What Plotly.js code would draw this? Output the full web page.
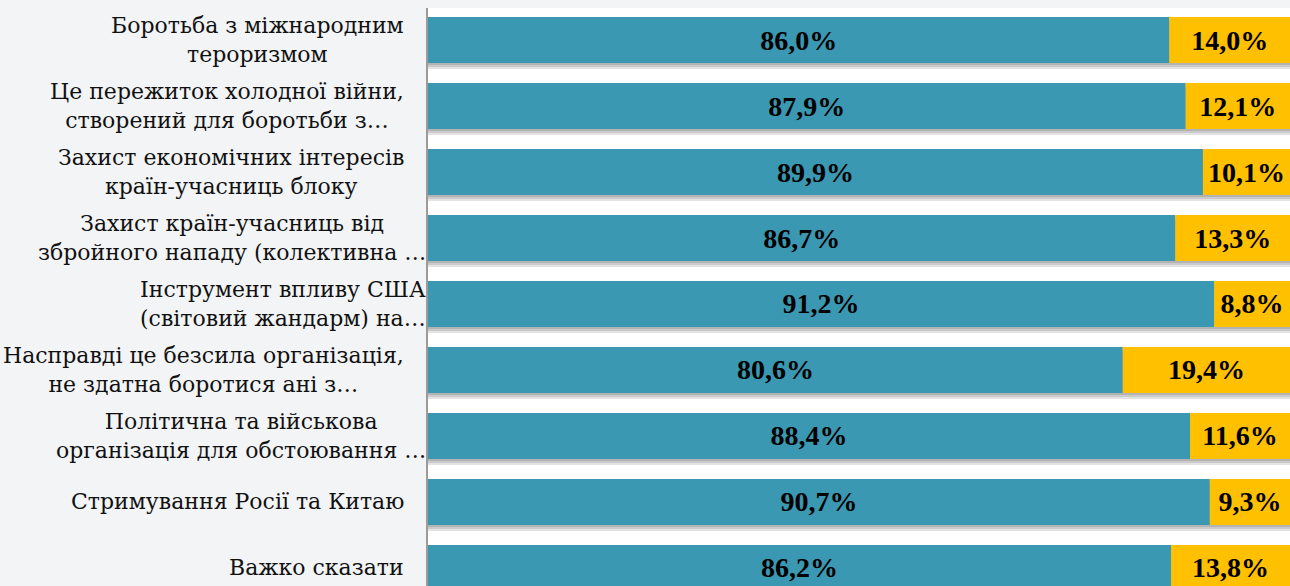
<!DOCTYPE html>
<html>
<head>
<meta charset="utf-8">
<script src="https://cdn.plot.ly/plotly-3.0.1.min.js"></script>
<style>
  html, body { margin: 0; padding: 0; background: #f3f4f6; }
  #chart { width: 1290px; height: 586px; }
</style>
</head>
<body>
<div id="chart"></div>
<script>
// ---- data ----
const categories = [
  "Боротьба з міжнародним<br>тероризмом",
  "Це пережиток холодної війни,<br>створений для боротьби з…",
  "Захист економічних інтересів<br>країн-учасниць блоку",
  "Захист країн-учасниць від<br>збройного нападу (колективна …",
  "Інструмент впливу США<br>(світовий жандарм) на…",
  "Насправді це безсила організація,<br>не здатна боротися ані з…",
  "Політична та військова<br>організація для обстоювання …",
  "Стримування Росії та Китаю",
  "Важко сказати"
];
const seriesA = [86.0, 87.9, 89.9, 86.7, 91.2, 80.6, 88.4, 90.7, 86.2];
const seriesB = [14.0, 12.1, 10.1, 13.3, 8.8, 19.4, 11.6, 9.3, 13.8];

// ---- build ----
const ids = categories.map((c, i) => i);
const fmt = v => v.toFixed(1).replace('.', ',') + '%';
const totals = seriesA.map((a, i) => a + seriesB[i]);

const barW = 0.70;
const pxPerCat = 66;
const shadowTraces = [2, 4, 6].map(px => ({
  type: 'bar', orientation: 'h',
  y: ids, x: totals, base: 0,
  width: barW, offset: -barW / 2 + px / pxPerCat,
  marker: { color: 'rgba(0,0,0,0.11)', line: { width: 0 } },
  hoverinfo: 'skip', showlegend: false
}));

const textFont = { family: 'Liberation Serif', size: 28, color: '#000000', weight: 'bold' };

const traceA = {
  type: 'bar', orientation: 'h',
  y: ids, x: seriesA, base: 0,
  width: barW,
  marker: { color: '#3a98b2', line: { width: 0 } },
  text: seriesA.map(fmt), textposition: 'inside', insidetextanchor: 'middle',
  textangle: 0, constraintext: 'none',
  textfont: textFont, hoverinfo: 'skip', showlegend: false
};
const traceB = {
  type: 'bar', orientation: 'h',
  y: ids, x: seriesB, base: seriesA,
  width: barW,
  marker: { color: '#ffc000', line: { width: 0 } },
  text: seriesB.map(fmt), textposition: 'inside', insidetextanchor: 'middle',
  textangle: 0, constraintext: 'none',
  textfont: textFont, hoverinfo: 'skip', showlegend: false
};

const annotations = categories.map((c, i) => {
  const lines = c.split('<br>');
  let longest = lines.reduce((a, b) => (b.length > a.length ? b : a));
  const overflow = longest.endsWith('…');
  return {
    xref: 'paper', yref: 'y', x: 0, y: i,
    xanchor: 'right', yanchor: 'middle', align: 'center',
    xshift: overflow ? 0 : -22,
    text: c, showarrow: false,
    font: { family: 'DejaVu Serif', size: 22, color: '#111111' }
  };
});

const layout = {
  width: 1290, height: 586,
  margin: { l: 428, r: 0, t: 8, b: 0, pad: 0 },
  paper_bgcolor: '#f3f4f6',
  plot_bgcolor: '#ffffff',
  barmode: 'overlay',
  showlegend: false,
  xaxis: { range: [0, 100], visible: false, fixedrange: true },
  yaxis: {
    type: 'linear',
    range: [8.273, -0.485],
    showticklabels: false, ticks: '', showgrid: false, zeroline: false,
    showline: true, linecolor: '#9b9b9b', linewidth: 2,
    fixedrange: true
  },
  annotations: annotations
};

Plotly.newPlot('chart', [...shadowTraces, traceA, traceB], layout, { displayModeBar: false, staticPlot: true });
</script>
</body>
</html>
